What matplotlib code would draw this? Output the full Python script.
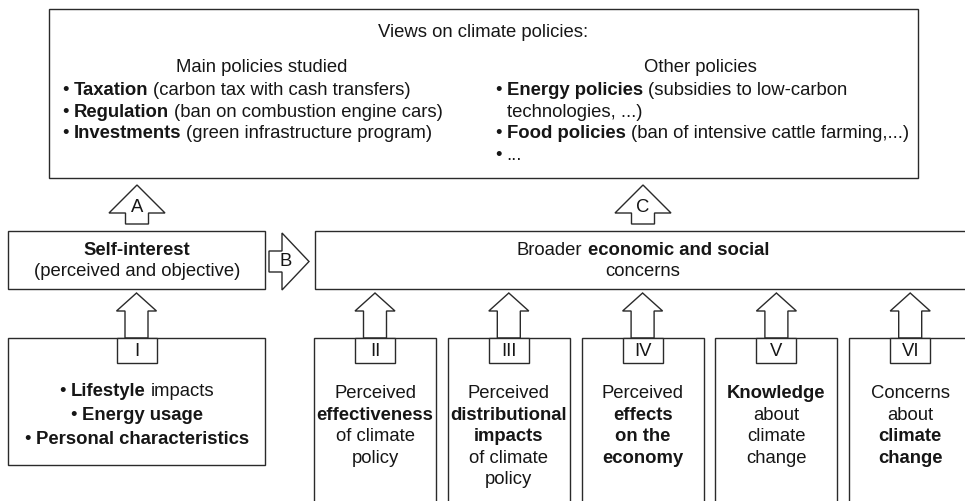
import matplotlib
matplotlib.use("Agg")
import matplotlib.pyplot as plt
from matplotlib.patches import Rectangle, Polygon

plt.rcParams['font.family'] = ['Liberation Sans', 'DejaVu Sans']

# ---- texts of the diagram ----
header = "Views on climate policies:"
main_title = "Main policies studied"
main_items = [("Taxation", "(carbon tax with cash transfers)"),
              ("Regulation", "(ban on combustion engine cars)"),
              ("Investments", "(green infrastructure program)")]
other_title = "Other policies"
other_items = [("Energy policies", "(subsidies to low-carbon"),
               (None, "technologies, ...)"),
               ("Food policies", "(ban of intensive cattle farming,...)"),
               ("", "...")]
arrow_letters = ["A", "B", "C"]
self_lines = [[("Self-interest", 1)], [("(perceived and objective)", 0)]]
broad_lines = [[("Broader", 0), ("economic and social", 1)], [("concerns", 0)]]
box1_lines = [[("\u2022", 0), ("Lifestyle", 1), ("impacts", 0)],
              [("\u2022", 0), ("Energy usage", 1)],
              [("\u2022", 0), ("Personal characteristics", 1)]]
numerals = ["I", "II", "III", "IV", "V", "VI"]
concern_lines = [
    [[("Perceived", 0)], [("effectiveness", 1)], [("of climate", 0)], [("policy", 0)]],
    [[("Perceived", 0)], [("distributional", 1)], [("impacts", 1)], [("of climate", 0)], [("policy", 0)]],
    [[("Perceived", 0)], [("effects", 1)], [("on the", 1)], [("economy", 1)]],
    [[("Knowledge", 1)], [("about", 0)], [("climate", 0)], [("change", 0)]],
    [[("Concerns", 0)], [("about", 0)], [("climate", 1)], [("change", 1)]],
]

FS = 13.3
INK = '#161616'
EDGE = '#2a2a2a'
LW = 1.0

fig = plt.figure(figsize=(9.65, 5.01), dpi=100)
ax = fig.add_axes([0, 0, 1, 1])
ax.set_xlim(0, 965)
ax.set_ylim(501, 0)
ax.axis('off')
rend = fig.canvas.get_renderer()


def txt_width(s, b):
    t = ax.text(0, 0, s, fontsize=FS, fontweight='bold' if b else 'normal')
    w = t.get_window_extent(rend).width
    t.remove()
    return w


SP = txt_width("a a", 0) - txt_width("aa", 0)
BUL = txt_width("\u2022", 0) + SP


def rich(x, y, parts, ha='center'):
    ws = [txt_width(s, b) for s, b in parts]
    total = sum(ws) + SP * (len(parts) - 1)
    x0 = x - total / 2 if ha == 'center' else x
    for (s, b), w in zip(parts, ws):
        ax.text(x0, y + 6.5, s, fontsize=FS, color=INK, ha='left', va='baseline',
                fontweight='bold' if b else 'normal')
        x0 += w + SP


def box(x0, y0, x1, y1):
    ax.add_patch(Rectangle((x0, y0), x1 - x0, y1 - y0, fc='white', ec=EDGE, lw=LW))


def up_arrow(cx, tip, base, bottom, hw, sw, label=None):
    pts = [(cx, tip), (cx + hw / 2, base), (cx + sw / 2, base), (cx + sw / 2, bottom),
           (cx - sw / 2, bottom), (cx - sw / 2, base), (cx - hw / 2, base)]
    ax.add_patch(Polygon(pts, closed=True, fc='white', ec=EDGE, lw=LW, joinstyle='miter'))
    if label:
        ax.text(cx, base - 6, label, fontsize=FS, color=INK, ha='center', va='center')


def right_arrow(x0, neck, tip, cy, hh, sh, label=None):
    pts = [(tip, cy), (neck, cy - hh / 2), (neck, cy - sh / 2), (x0, cy - sh / 2),
           (x0, cy + sh / 2), (neck, cy + sh / 2), (neck, cy + hh / 2)]
    ax.add_patch(Polygon(pts, closed=True, fc='white', ec=EDGE, lw=LW, joinstyle='miter'))
    if label:
        ax.text(neck + 4, cy, label, fontsize=FS, color=INK, ha='center', va='center')


# ---- top box ----
box(49, 9, 918, 178)
rich(483, 30, [(header, 0)])
rich(262, 65, [(main_title, 0)])
for i, (b, n) in enumerate(main_items):
    rich(62, 88 + i * 22, [("\u2022", 0), (b, 1), (n, 0)], ha='left')
rich(700, 65, [(other_title, 0)])
yy = 88
for b, n in other_items:
    if b is None:
        rich(495 + BUL, yy, [(n, 0)], ha='left')
    elif b == "":
        rich(495, yy, [("\u2022", 0), (n, 0)], ha='left')
    else:
        rich(495, yy, [("\u2022", 0), (b, 1), (n, 0)], ha='left')
    yy += 22

# ---- middle row ----
up_arrow(137, 185, 213, 224, 56, 23, arrow_letters[0])
up_arrow(643, 185, 213, 224, 56, 23, arrow_letters[2])
box(8, 231, 265, 289)
for i, ln in enumerate(self_lines):
    rich(137, 248 + i * 22, ln)
box(315, 231, 990, 289)
for i, ln in enumerate(broad_lines):
    rich(643, 248 + i * 22, ln)
right_arrow(269, 282, 309, 261.5, 57, 21, arrow_letters[1])

# ---- bottom row ----
lefts = [8] + [314 + k * 133.8 for k in range(5)]
rights = [265] + [314 + k * 133.8 + 122 for k in range(5)]
for k in range(6):
    cx = (lefts[k] + rights[k]) / 2
    up_arrow(cx, 293, 311, 338, 40, 23)
    bot = 465 if k == 0 else 520
    box(lefts[k], 338, rights[k] if k < 5 else 990, bot)
    box(cx - 20, 338, cx + 20, 363)
    ax.text(cx, 351, numerals[k], fontsize=FS, color=INK, ha='center', va='center')
    if k == 0:
        for i, ln in enumerate(box1_lines):
            rich(cx, 390 + i * 23.5, ln)
    else:
        for i, ln in enumerate(concern_lines[k - 1]):
            rich(cx, 392 + i * 21.4, ln)

fig.savefig("out.png", dpi=100)
